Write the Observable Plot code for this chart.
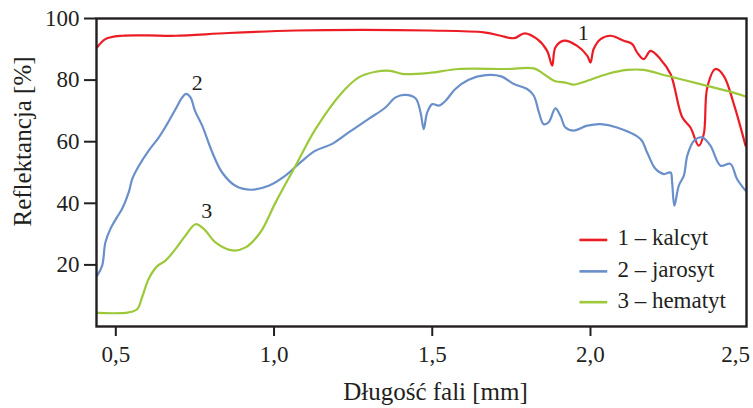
<!DOCTYPE html>
<html>
<head>
<meta charset="utf-8">
<script src="https://cdn.jsdelivr.net/npm/d3@7"></script>
<script src="https://cdn.jsdelivr.net/npm/@observablehq/plot@0.6"></script>
<style>
  body { margin: 0; background: #fff; }
  svg { display: block; }
</style>
</head>
<body>
<div id="chart"></div>
<script>
// Reflectance spectra of three minerals (wavelength vs. reflectance %)
const seriesNames = ["1 – kalcyt", "2 – jarosyt", "3 – hematyt"];
const seriesColors = ["#ec1c24", "#6a8fcb", "#9cc83a"];
const curveLabels = ["1", "2", "3"];

const kalcytX = [0.441, 0.467, 0.520, 0.600, 0.689, 0.857, 1.068, 1.279, 1.489, 1.663, 1.716, 1.758, 1.792, 1.832, 1.863, 1.879, 1.889, 1.916, 1.958, 1.990, 2.000, 2.010, 2.032, 2.063, 2.105, 2.132, 2.147, 2.168, 2.190, 2.221, 2.253, 2.290, 2.316, 2.342, 2.358, 2.369, 2.395, 2.421, 2.453, 2.490];
const kalcytY = [90.6, 93.3, 94.4, 94.5, 94.4, 95.3, 96.1, 96.3, 96.1, 95.5, 94.4, 93.6, 95.2, 93.3, 89.5, 84.7, 90.6, 92.8, 91.1, 87.9, 85.7, 90.1, 93.3, 94.4, 92.8, 91.7, 89.0, 86.8, 89.5, 86.8, 82.0, 67.9, 64.6, 58.7, 62.5, 77.6, 83.6, 81.4, 72.2, 58.7];

const jarosytX = [0.441, 0.457, 0.467, 0.483, 0.504, 0.520, 0.541, 0.552, 0.573, 0.604, 0.636, 0.662, 0.689, 0.710, 0.722, 0.736, 0.750, 0.773, 0.805, 0.836, 0.878, 0.926, 0.983, 1.036, 1.089, 1.131, 1.184, 1.236, 1.299, 1.352, 1.384, 1.415, 1.447, 1.463, 1.473, 1.484, 1.500, 1.521, 1.542, 1.573, 1.615, 1.668, 1.718, 1.758, 1.800, 1.821, 1.837, 1.852, 1.868, 1.889, 1.905, 1.921, 1.947, 1.990, 2.032, 2.084, 2.158, 2.179, 2.205, 2.232, 2.253, 2.258, 2.265, 2.279, 2.295, 2.306, 2.327, 2.353, 2.379, 2.411, 2.442, 2.463, 2.490];
const jarosytY = [16.5, 19.8, 27.3, 31.7, 35.5, 38.2, 43.6, 47.9, 52.2, 57.1, 61.4, 65.7, 70.6, 74.4, 75.5, 74.4, 70.1, 65.2, 56.5, 50.0, 45.7, 44.4, 45.7, 49.0, 53.8, 57.1, 59.3, 63.0, 67.4, 71.1, 74.4, 75.2, 74.1, 69.5, 64.1, 69.5, 72.2, 71.7, 73.3, 77.1, 80.1, 81.6, 81.2, 78.7, 77.1, 74.9, 69.5, 65.7, 66.3, 70.8, 68.4, 64.6, 63.6, 65.2, 65.7, 64.6, 60.9, 56.5, 51.2, 49.5, 50.0, 46.8, 39.2, 45.7, 49.0, 55.5, 60.3, 61.4, 58.7, 52.2, 52.8, 47.9, 44.1];

const hematytX = [0.441, 0.541, 0.568, 0.583, 0.604, 0.631, 0.657, 0.689, 0.720, 0.752, 0.778, 0.815, 0.868, 0.910, 0.957, 1.005, 1.068, 1.131, 1.215, 1.268, 1.321, 1.368, 1.405, 1.489, 1.584, 1.735, 1.821, 1.852, 1.889, 1.921, 1.947, 1.990, 2.053, 2.116, 2.168, 2.242, 2.347, 2.432, 2.490];
const hematytY = [4.4, 4.6, 5.7, 9.5, 15.5, 19.6, 21.4, 25.2, 29.5, 33.2, 31.7, 27.3, 24.7, 25.7, 30.6, 40.3, 52.2, 64.1, 76.0, 80.9, 82.7, 83.0, 82.0, 82.3, 83.6, 83.6, 83.8, 82.0, 79.6, 79.2, 78.5, 79.8, 82.0, 83.3, 83.3, 81.4, 78.7, 76.5, 74.7];

// Curve number labels (placed next to each curve)
const curveLabelX = [1.977, 0.757, 0.787];
const curveLabelY = [95.3, 79.2, 37.6];

// Axis ticks
const xTicks = [0.5, 1.0, 1.5, 2.0, 2.5];
const xTickLabels = ["0,5", "1,0", "1,5", "2,0", "2,5"];
const yTicks = [20, 40, 60, 80, 100];

// Legend rows (inside the plot, lower right)
const legendY = [28.1, 17.9, 7.9];
const legendX1 = 1.965, legendX2 = 2.053, legendTextX = 2.085;

const ink = "#231f20";

const rows = [
  ...kalcytX.map((x, i) => ({x, y: kalcytY[i], s: seriesNames[0]})),
  ...jarosytX.map((x, i) => ({x, y: jarosytY[i], s: seriesNames[1]})),
  ...hematytX.map((x, i) => ({x, y: hematytY[i], s: seriesNames[2]}))
];
const legendRows = seriesNames.map((s, i) => ({s, y: legendY[i]}));
const labelRows = curveLabels.map((t, i) => ({t, x: curveLabelX[i], y: curveLabelY[i]}));
const fmt = d => xTickLabels[xTicks.indexOf(d)];

const chart = Plot.plot({
  width: 753,
  height: 408,
  marginLeft: 96,
  marginTop: 18,
  marginRight: 7,
  marginBottom: 82,
  x: {domain: [0.439, 2.493]},
  y: {domain: [0, 100]},
  color: {domain: seriesNames, range: seriesColors},
  style: {fontFamily: "'Liberation Serif', 'DejaVu Serif', serif", fontSize: "22px", color: ink, background: "#fff"},
  marks: [
    Plot.line(rows, {x: "x", y: "y", z: "s", stroke: "s", strokeWidth: 2.2, curve: "catmull-rom"}),
    Plot.frame({stroke: ink, strokeWidth: 2.4}),
    Plot.axisY({ticks: yTicks, tickSize: 12, tickPadding: 5, strokeWidth: 2, stroke: ink, fill: ink, label: null, fontSize: 23}),
    Plot.axisX({ticks: xTicks.slice(0, 4), tickSize: 10, tickPadding: 9, strokeWidth: 2, stroke: ink, fill: ink, tickFormat: fmt, label: null, fontSize: 23}),
    // last x label sits at the right edge of the frame, without a tick
    Plot.text([xTicks[4]], {x: d => d, text: fmt, frameAnchor: "bottom", textAnchor: "middle", lineAnchor: "top", dy: 19, dx: -13, fontSize: 23, fill: ink}),
    // axis titles
    Plot.text(["Długość fali [mm]"], {frameAnchor: "bottom", text: d => d, textAnchor: "middle", lineAnchor: "bottom", dx: 14, dy: 73, fontSize: 25, fill: ink}),
    Plot.text(["Reflektancja [%]"], {frameAnchor: "left", text: d => d, rotate: -90, textAnchor: "middle", lineAnchor: "bottom", dx: -66, dy: -31, fontSize: 25, fill: ink}),
    // curve numbers
    Plot.text(labelRows, {x: "x", y: "y", text: "t", fontSize: 22, fill: ink}),
    // legend
    Plot.link(legendRows, {x1: legendX1, x2: legendX2, y1: "y", y2: "y", stroke: "s", strokeWidth: 2.6}),
    Plot.text(legendRows, {x: legendTextX, y: "y", text: "s", textAnchor: "start", dy: -2, fontSize: 23, fill: ink})
  ]
});

document.getElementById("chart").append(chart);
</script>
</body>
</html>
